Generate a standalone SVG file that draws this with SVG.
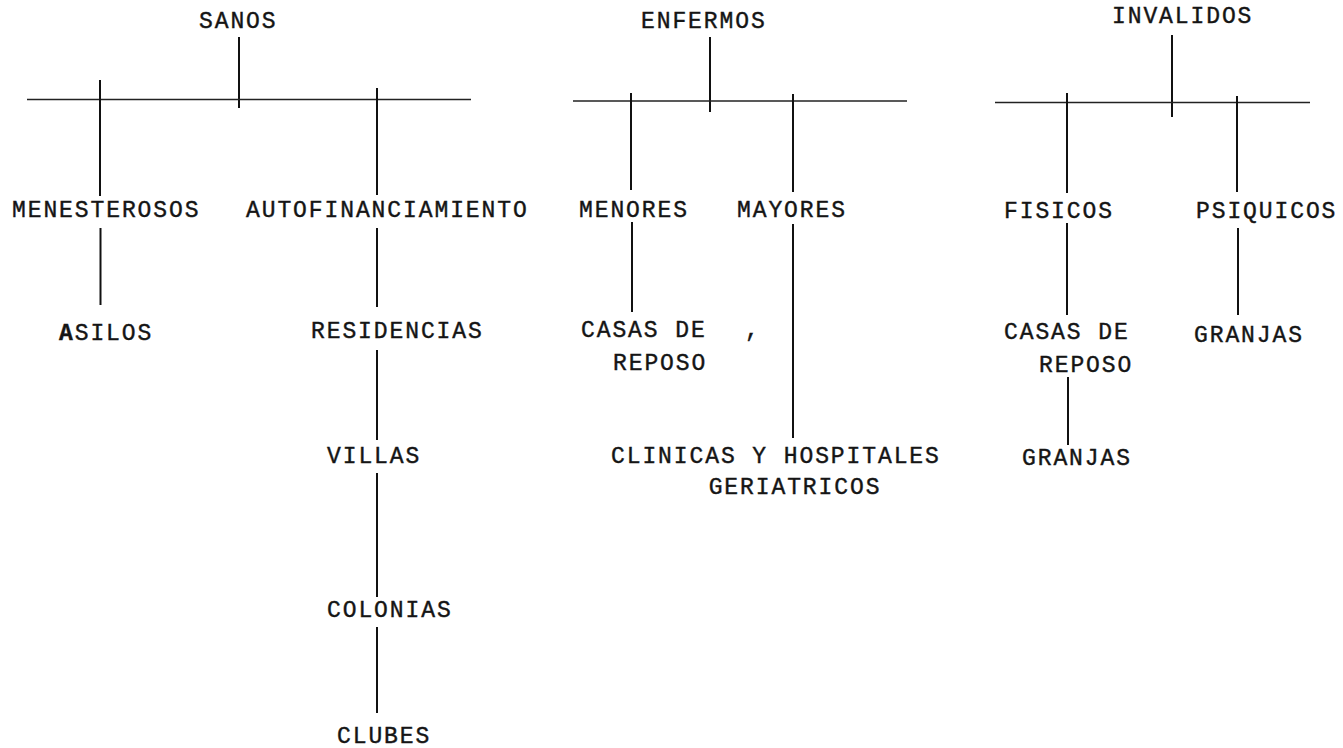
<svg xmlns="http://www.w3.org/2000/svg" width="1343" height="748" viewBox="0 0 1343 748">
<style>
  .t { font-family: "Liberation Mono", "DejaVu Sans Mono", monospace; font-size: 23px; letter-spacing: 1.9px; fill: #151515; stroke: #151515; stroke-width: 0.4px; }
  .v { stroke: #111; stroke-width: 2; fill: none; }
  .h { stroke: #222; stroke-width: 1.6; fill: none; }
</style>
<rect width="1343" height="748" fill="#ffffff"/>
<g id="connectors">
  <!-- SANOS -->
  <line class="v" x1="239" y1="37" x2="239" y2="108"/>
  <line class="h" x1="27" y1="99.5" x2="471" y2="99.5"/>
  <line class="v" x1="100" y1="80" x2="100" y2="196"/>
  <line class="v" x1="377" y1="88" x2="377" y2="195"/>
  <line class="v" x1="100.5" y1="228" x2="100.5" y2="305"/>
  <line class="v" x1="377" y1="228" x2="377" y2="307"/>
  <line class="v" x1="377" y1="350" x2="377" y2="440"/>
  <line class="v" x1="377" y1="473" x2="377" y2="597"/>
  <line class="v" x1="377" y1="627" x2="377" y2="713"/>
  <!-- ENFERMOS -->
  <line class="v" x1="710" y1="37" x2="710" y2="112"/>
  <line class="h" x1="573" y1="101" x2="907" y2="101"/>
  <line class="v" x1="631" y1="93" x2="631" y2="190"/>
  <line class="v" x1="793" y1="94" x2="793" y2="192"/>
  <line class="v" x1="632" y1="222" x2="632" y2="312"/>
  <line class="v" x1="793" y1="224" x2="793" y2="438"/>
  <!-- INVALIDOS -->
  <line class="v" x1="1172" y1="35" x2="1172" y2="117"/>
  <line class="h" x1="995" y1="102.5" x2="1310" y2="102.5"/>
  <line class="v" x1="1067" y1="93" x2="1067" y2="193" stroke-width="3" stroke="#333"/>
  <line class="v" x1="1237" y1="96" x2="1237" y2="192"/>
  <line class="v" x1="1067" y1="223" x2="1067" y2="315"/>
  <line class="v" x1="1238" y1="228" x2="1238" y2="315"/>
  <line class="v" x1="1068" y1="377" x2="1068" y2="445"/>
</g>
<g id="sanos"><text class="t" x="199" y="28">SANOS</text></g>
<g id="enfermos"><text class="t" x="641" y="28">ENFERMOS</text></g>
<g id="invalidos"><text class="t" x="1112" y="23">INVALIDOS</text></g>
<g id="menesterosos"><text class="t" x="12" y="217">MENESTEROSOS</text></g>
<g id="autofinanciamiento"><text class="t" x="246" y="217">AUTOFINANCIAMIENTO</text></g>
<g id="menores"><text class="t" x="579" y="217">MENORES</text></g>
<g id="mayores"><text class="t" x="737" y="217">MAYORES</text></g>
<g id="fisicos"><text class="t" x="1004" y="218">FISICOS</text></g>
<g id="psiquicos"><text class="t" x="1196" y="218">PSIQUICOS</text></g>
<g id="asilos"><text class="t" x="59" y="340"><tspan font-weight="bold">A</tspan>SILOS</text></g>
<g id="residencias"><text class="t" x="311" y="338">RESIDENCIAS</text></g>
<g id="casas-reposo-1"><text class="t" x="581" y="337">CASAS DE</text><text class="t" x="613" y="370">REPOSO</text></g>
<g id="mark"><text class="t" x="745" y="337">,</text></g>
<g id="clinicas"><text class="t" x="611" y="463">CLINICAS Y HOSPITALES</text><text class="t" x="795" y="494" text-anchor="middle" letter-spacing="2.6">GERIATRICOS</text></g>
<g id="casas-reposo-2"><text class="t" x="1004" y="339">CASAS DE</text><text class="t" x="1039" y="372">REPOSO</text></g>
<g id="granjas-1"><text class="t" x="1194" y="342">GRANJAS</text></g>
<g id="granjas-2"><text class="t" x="1022" y="465">GRANJAS</text></g>
<g id="villas"><text class="t" x="327" y="463">VILLAS</text></g>
<g id="colonias"><text class="t" x="327" y="617">COLONIAS</text></g>
<g id="clubes"><text class="t" x="337" y="743">CLUBES</text></g>
</svg>
